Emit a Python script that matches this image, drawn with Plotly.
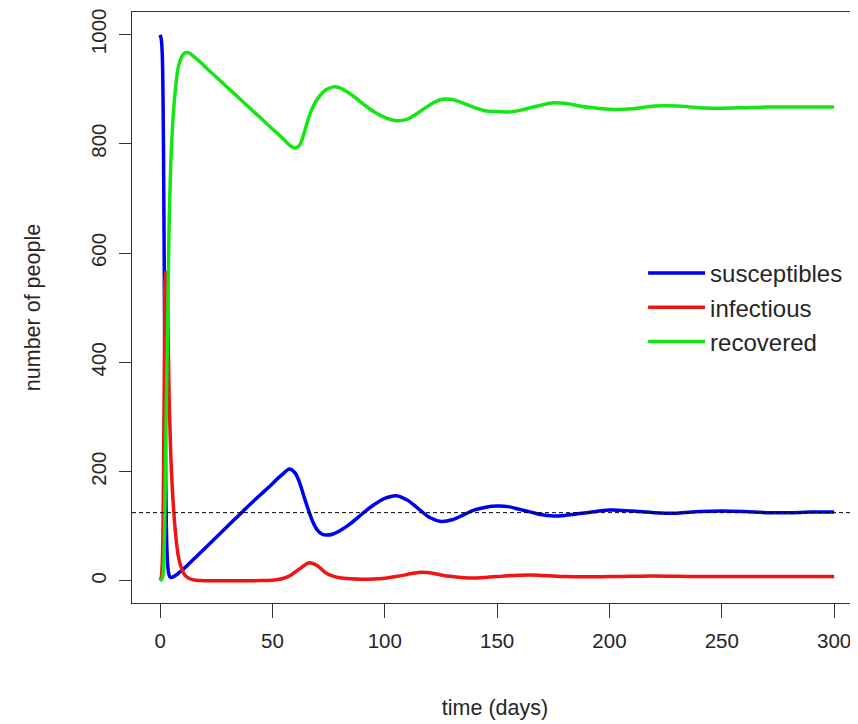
import plotly.graph_objects as go

# time points (days)
days = [0, 0.5, 1, 1.5, 2, 2.5, 3, 3.5, 4, 4.5,
        5, 6, 7, 8, 9, 10, 11, 12, 13, 14,
        16, 18, 20, 25, 30, 35, 40, 45, 50, 53,
        55, 57.5, 60, 62, 64, 66, 68, 70, 72, 74,
        77, 80, 85, 90, 95, 100, 105, 110, 115, 120,
        125, 130, 135, 140, 145, 150, 155, 160, 165, 170,
        175, 180, 190, 200, 210, 220, 230, 240, 250, 260,
        270, 280, 290, 300]

susceptibles = [999, 992, 960, 800, 470, 190, 62, 24, 11, 7,
                6.5, 8, 10.5, 13.5, 17, 20, 24, 28, 32, 36,
                44, 52, 60, 80, 100, 120, 140, 159, 178, 190,
                197, 205, 198, 181, 155, 130, 108, 93, 86, 84,
                86, 92, 106, 123, 139, 151, 156, 148, 132, 116,
                109, 112, 121, 130, 135, 137, 136, 131, 126, 121,
                119, 120, 125, 130, 128, 125, 124, 127, 128, 127,
                125, 125, 126, 126]

infectious = [1, 6, 35, 180, 440, 565, 560, 470, 340, 265,
              205, 132, 82, 48, 30, 18, 11, 7, 4.5, 3,
              1.5, 0.8, 0.5, 0.3, 0.3, 0.3, 0.4, 0.7, 1.5, 3,
              5, 9, 16, 22, 28, 33, 32, 28, 21, 14,
              9, 6, 4, 3, 3.5, 5, 8, 12, 15.5, 15,
              11, 8, 6, 5.5, 6.5, 8, 9.5, 10.5, 11, 10,
              9, 8, 7.5, 8, 8.5, 9, 8.5, 8, 8, 8,
              8, 8, 8, 8]

recovered = [0, 2, 5, 20, 90, 245, 378, 506, 649, 728,
             788, 860, 907, 938, 953, 962, 966, 967, 966, 963,
             956, 949, 941, 922, 903, 884, 865, 846, 827, 816,
             808, 798, 792, 797, 818, 846, 867, 882, 892, 899,
             904, 902, 890, 874, 859, 848, 842, 845, 857, 871,
             881, 881, 874, 866, 860, 859, 858, 861, 866, 871,
             875, 874, 867, 863, 864, 869, 869, 866, 865, 866,
             867, 867, 867, 867]

threshold = 125  # dashed reference line (S*)

x_ticks = [0, 50, 100, 150, 200, 250, 300]
y_ticks = [0, 200, 400, 600, 800, 1000]

FONT = "Liberation Sans, Arial, Helvetica, sans-serif"
TICK_FS = 20.5
TITLE_FS = 21.5
LEG_FS = 24
TXT = "#262626"
AX = "#333333"

fig = go.Figure()
for name, vals, col in [("susceptibles", susceptibles, "#0000f0"),
                        ("infectious", infectious, "#f01414"),
                        ("recovered", recovered, "#14e614")]:
    fig.add_trace(go.Scatter(x=days, y=vals, mode="lines", name=name,
                             line=dict(color=col, width=3.5, shape="spline", smoothing=0.9)))

fig.add_hline(y=threshold, line=dict(color="black", width=1, dash="4px,3px"))

# the page body adds an 8px offset, so the figure is 8px smaller than the window
fig.update_layout(
    width=850, height=716,
    margin=dict(l=124, r=0, t=4, b=121, autoexpand=False),
    paper_bgcolor="white", plot_bgcolor="white",
    font=dict(family=FONT, size=TICK_FS, color=TXT),
    showlegend=True,
    legend=dict(x=0.704, y=0.50, xanchor="left", yanchor="middle",
                bgcolor="rgba(0,0,0,0)", borderwidth=0, itemwidth=57,
                font=dict(size=LEG_FS, color=TXT), tracegroupgap=0),
    xaxis=dict(range=[-12.5, 310.6], tickvals=x_ticks, ticks="outside", ticklen=14,
               tickcolor=AX, showline=True, linecolor=AX, linewidth=1.3, mirror=True,
               showgrid=False, zeroline=False, automargin=False, ticklabelstandoff=5,
               tickfont=dict(size=TICK_FS, color=TXT),
               title=dict(text="time (days)", standoff=49,
                          font=dict(size=TITLE_FS, color=TXT))),
    yaxis=dict(range=[-40.3, 1041], tickvals=y_ticks, ticks="outside", ticklen=12,
               tickcolor=AX, showline=True, linecolor=AX, linewidth=1.3, mirror=False,
               showgrid=False, zeroline=False, tickangle=-90, automargin=False,
               ticklabelstandoff=5,
               tickfont=dict(size=TICK_FS, color=TXT),
               title=dict(text="number of people", standoff=40,
                          font=dict(size=TITLE_FS, color=TXT))),
)

fig.write_html("out.html")
